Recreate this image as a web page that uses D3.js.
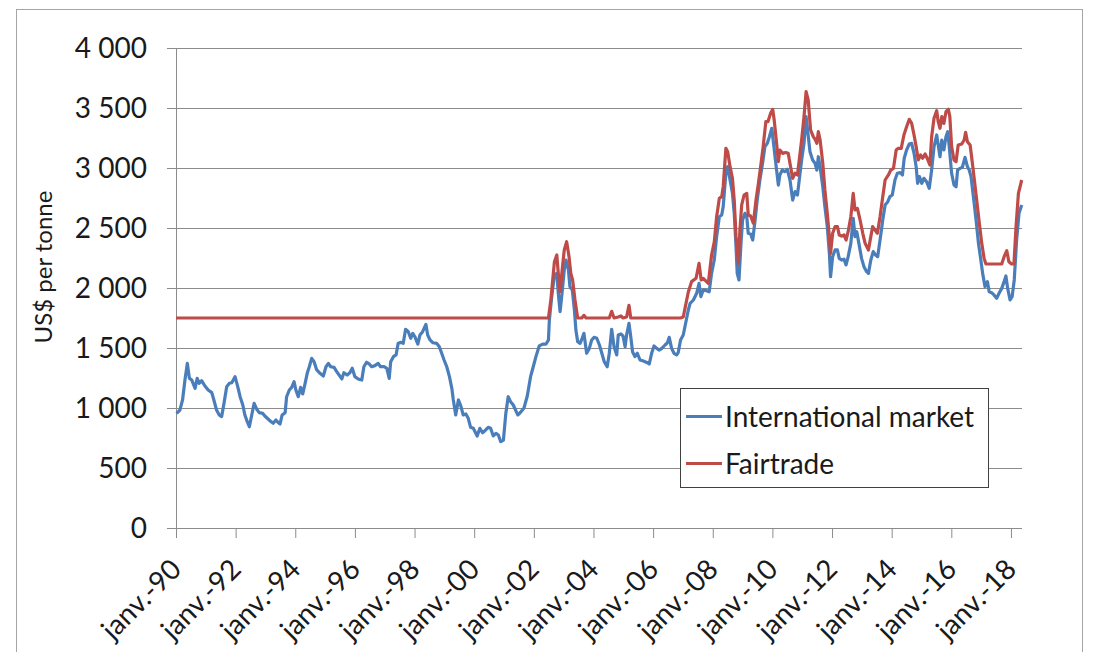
<!DOCTYPE html>
<html>
<head>
    <meta charset="utf-8">
    <title>Cocoa prices - International market vs Fairtrade</title>
    <script src="https://d3js.org/d3.v7.min.js"></script>
    <style>
        body {
            margin: 0;
            background: #fff;
            font-family: Lato, "Open Sans", sans-serif;
        }
        .grid line {
            stroke: #8c8c8c;
            stroke-width: 1px;
        }
        .tick-label {
            font-size: 28px;
            fill: #1a1a1a;
        }
        .series {
            fill: none;
            stroke-width: 3.2px;
            stroke-linejoin: round;
        }
    </style>
</head>
<body>
    <svg id="chart" width="1095" height="652"></svg>

    <script>
        // International market price (US$/tonne)
        const marketYears = [
            1990.02, 1990.13, 1990.22, 1990.30, 1990.38, 1990.45, 1990.53, 1990.64, 1990.71, 1990.78, 1990.86, 1990.97,
            1991.08, 1991.20, 1991.27, 1991.36, 1991.45, 1991.53, 1991.61, 1991.70, 1991.79, 1991.87, 1991.98,
            1992.07, 1992.15, 1992.24, 1992.31, 1992.39, 1992.46, 1992.54, 1992.62, 1992.71, 1992.79, 1992.91, 1992.98,
            1993.15, 1993.26, 1993.35, 1993.43, 1993.49, 1993.56, 1993.66, 1993.71, 1993.80, 1993.88, 1993.96,
            1994.02, 1994.10, 1994.18, 1994.25, 1994.33, 1994.40, 1994.47, 1994.55, 1994.63, 1994.72, 1994.83, 1994.94,
            1995.03, 1995.11, 1995.19, 1995.30, 1995.39, 1995.56, 1995.63, 1995.74, 1995.83, 1995.91,
            1996.00, 1996.11, 1996.23, 1996.30, 1996.39, 1996.48, 1996.56, 1996.67, 1996.78, 1996.86, 1996.98,
            1997.07, 1997.15, 1997.20, 1997.29, 1997.38, 1997.45, 1997.55, 1997.62, 1997.70, 1997.79, 1997.87, 1997.94,
            1998.01, 1998.11, 1998.18, 1998.27, 1998.38, 1998.44, 1998.52, 1998.61, 1998.74, 1998.83, 1998.91, 1998.99,
            1999.08, 1999.17, 1999.25, 1999.30, 1999.38, 1999.47, 1999.55, 1999.63, 1999.72, 1999.80, 1999.88, 1999.97,
            2000.10, 2000.19, 2000.28, 2000.36, 2000.47, 2000.55, 2000.64, 2000.73, 2000.81, 2000.89, 2000.98,
            2001.06, 2001.14, 2001.22, 2001.31, 2001.46, 2001.54, 2001.67, 2001.78, 2001.89, 2001.98,
            2002.07, 2002.18, 2002.30, 2002.41, 2002.49, 2002.52, 2002.60, 2002.69, 2002.77, 2002.82, 2002.88, 2002.95,
            2003.02, 2003.08, 2003.16, 2003.21, 2003.29, 2003.36, 2003.41, 2003.47, 2003.55, 2003.62, 2003.68, 2003.77, 2003.86, 2003.94,
            2004.02, 2004.11, 2004.20, 2004.28, 2004.36, 2004.46, 2004.53, 2004.61, 2004.69, 2004.78, 2004.83, 2004.92, 2004.99,
            2005.06, 2005.11, 2005.19, 2005.25, 2005.31, 2005.39, 2005.47, 2005.56, 2005.65, 2005.73, 2005.79, 2005.87, 2005.95,
            2006.03, 2006.12, 2006.21, 2006.29, 2006.40, 2006.48, 2006.54, 2006.62, 2006.70, 2006.79, 2006.84, 2006.92,
            2007.01, 2007.09, 2007.18, 2007.24, 2007.35, 2007.46, 2007.54, 2007.60, 2007.68, 2007.77, 2007.88, 2007.96,
            2008.05, 2008.13, 2008.22, 2008.30, 2008.35, 2008.44, 2008.50, 2008.58, 2008.66, 2008.72, 2008.78, 2008.82, 2008.88, 2008.94,
            2009.00, 2009.08, 2009.14, 2009.19, 2009.27, 2009.34, 2009.42, 2009.49, 2009.58, 2009.67, 2009.75, 2009.83, 2009.90, 2009.98,
            2010.05, 2010.14, 2010.20, 2010.25, 2010.33, 2010.42, 2010.50, 2010.59, 2010.68, 2010.76, 2010.84, 2010.90, 2010.98,
            2011.06, 2011.13, 2011.18, 2011.26, 2011.35, 2011.43, 2011.49, 2011.54, 2011.60, 2011.69, 2011.76, 2011.84, 2011.91, 2011.95,
            2012.02, 2012.10, 2012.18, 2012.24, 2012.32, 2012.40, 2012.47, 2012.54, 2012.63, 2012.71, 2012.77, 2012.83, 2012.90, 2012.99,
            2013.07, 2013.16, 2013.22, 2013.30, 2013.38, 2013.46, 2013.53, 2013.61, 2013.70, 2013.78, 2013.87, 2013.94,
            2014.02, 2014.11, 2014.19, 2014.28, 2014.36, 2014.42, 2014.50, 2014.59, 2014.67, 2014.75, 2014.82, 2014.87, 2014.93,
            2015.01, 2015.08, 2015.17, 2015.26, 2015.34, 2015.42, 2015.51, 2015.56, 2015.62, 2015.68, 2015.75, 2015.82, 2015.88, 2015.93,
            2016.01, 2016.09, 2016.16, 2016.21, 2016.29, 2016.37, 2016.46, 2016.54, 2016.60, 2016.66, 2016.74, 2016.83, 2016.91, 2016.99,
            2017.05, 2017.13, 2017.21, 2017.27, 2017.35, 2017.43, 2017.52, 2017.60, 2017.69, 2017.77, 2017.83, 2017.89, 2017.97,
            2018.04, 2018.11, 2018.19, 2018.27, 2018.36
        ];
        const marketValues = [
            955, 983, 1067, 1233, 1372, 1247, 1233, 1164, 1247, 1206, 1228, 1183,
            1150, 1128, 1067, 983, 942, 928, 1039, 1178, 1206, 1211, 1261,
            1178, 1094, 1025, 942, 886, 844, 942, 1039, 989, 961, 955, 933,
            894, 872, 900, 878, 867, 942, 961, 1094, 1150, 1172, 1219,
            1150, 1094, 1172, 1117, 1206, 1289, 1344, 1414, 1386, 1317, 1289, 1267,
            1344, 1372, 1344, 1339, 1303, 1242, 1294, 1275, 1294, 1331,
            1261, 1242, 1233, 1344, 1381, 1367, 1344, 1353, 1372, 1344, 1344,
            1331, 1247, 1386, 1428, 1442, 1539, 1547, 1539, 1656, 1636, 1581, 1622,
            1594, 1533, 1608, 1636, 1697, 1608, 1567, 1544, 1539, 1511, 1456, 1400,
            1344, 1261, 1164, 1067, 942, 1067, 1017, 942, 950, 914, 839, 831,
            767, 831, 794, 811, 839, 831, 767, 789, 775, 719, 733,
            955, 1094, 1053, 1025, 942, 960, 1000, 1100, 1261, 1344,
            1428, 1517, 1533, 1533, 1567, 1733, 1928, 2108, 2122, 1956, 1803, 1969,
            2150, 2233, 2150, 2011, 1983, 1817, 1650, 1553, 1539, 1581, 1622, 1456, 1497, 1567,
            1589, 1581, 1525, 1456, 1386, 1344, 1456, 1656, 1511, 1442, 1608, 1617, 1600,
            1511, 1608, 1706, 1594, 1469, 1428, 1456, 1400, 1394, 1386, 1380, 1367, 1456,
            1517, 1497, 1483, 1497, 1525, 1544, 1589, 1497, 1456, 1442, 1461, 1567,
            1608, 1706, 1817, 1872, 1900, 1956, 2039, 1928, 1983, 1980, 1969, 2122,
            2233, 2428, 2594, 2608, 2678, 2956, 3011, 2900, 2789, 2622, 2344, 2122, 2067, 2344,
            2567, 2622, 2594, 2456, 2450, 2400, 2567, 2733, 2900, 3039, 3178, 3206, 3261, 3331,
            3178, 2983, 2858, 2942, 2983, 2970, 2989, 2900, 2733, 2803, 2775, 2900, 3067,
            3206, 3428, 3317, 3136, 3067, 3039, 2983, 3094, 3011, 2844, 2678, 2511, 2289, 2094,
            2261, 2317, 2317, 2247, 2233, 2240, 2192, 2261, 2372, 2581, 2428, 2469, 2372, 2247,
            2178, 2136, 2122, 2233, 2303, 2275, 2261, 2400, 2567, 2692, 2719, 2761,
            2775, 2900, 2956, 2961, 2942, 3081, 3150, 3200, 3206, 3122, 3011, 2872, 2928,
            2872, 2914, 2886, 2831, 2983, 3178, 3275, 3192, 3094, 3233, 3150, 3261, 3303, 3178,
            2956, 2858, 2844, 2983, 2997, 3006, 3089, 3011, 2983, 2928, 2761, 2567, 2372, 2233,
            2122, 2011, 2053, 1969, 1961, 1942, 1914, 1956, 1997, 2053, 2100, 1997, 1900,
            1928, 2067, 2400, 2622, 2692
        ];

        // Fairtrade price (US$/tonne)
        const fairYears = [
            1990.00, 2002.49, 2002.57, 2002.69, 2002.77, 2002.82, 2002.88, 2002.95, 2003.02, 2003.10, 2003.18, 2003.24, 2003.30, 2003.38,
            2003.47, 2003.61, 2003.68, 2003.75, 2004.53, 2004.61, 2004.69, 2004.83, 2004.92, 2004.99, 2005.11, 2005.19, 2005.25,
            2006.92, 2007.01, 2007.09, 2007.18, 2007.29, 2007.44, 2007.54, 2007.61, 2007.68, 2007.85, 2007.96,
            2008.05, 2008.13, 2008.22, 2008.30, 2008.35, 2008.44, 2008.50, 2008.58, 2008.66, 2008.72, 2008.78, 2008.86, 2008.91, 2008.97,
            2009.05, 2009.14, 2009.19, 2009.27, 2009.36, 2009.45, 2009.53, 2009.62, 2009.69, 2009.78, 2009.85, 2009.94,
            2010.01, 2010.06, 2010.14, 2010.20, 2010.25, 2010.34, 2010.44, 2010.53, 2010.61, 2010.68, 2010.76, 2010.84, 2010.90, 2010.98,
            2011.06, 2011.13, 2011.20, 2011.28, 2011.37, 2011.43, 2011.49, 2011.54, 2011.60, 2011.69, 2011.76, 2011.84, 2011.91, 2011.95,
            2012.02, 2012.10, 2012.18, 2012.24, 2012.32, 2012.40, 2012.47, 2012.54, 2012.63, 2012.71, 2012.77, 2012.85, 2012.94,
            2013.03, 2013.11, 2013.22, 2013.30, 2013.36, 2013.44, 2013.52, 2013.61, 2013.70, 2013.78, 2013.89, 2013.97,
            2014.06, 2014.15, 2014.22, 2014.32, 2014.41, 2014.50, 2014.59, 2014.67, 2014.75, 2014.82, 2014.89, 2014.97,
            2015.04, 2015.12, 2015.19, 2015.28, 2015.34, 2015.42, 2015.51, 2015.56, 2015.62, 2015.68, 2015.75, 2015.82, 2015.90, 2015.95,
            2016.01, 2016.09, 2016.16, 2016.23, 2016.35, 2016.43, 2016.48, 2016.54, 2016.63, 2016.68, 2016.76, 2016.85, 2016.94,
            2017.02, 2017.10, 2017.16, 2017.69, 2017.77, 2017.86, 2017.93, 2018.02, 2018.10, 2018.17, 2018.25, 2018.36
        ];
        const fairValues = [
            1750, 1750, 1900, 2219, 2275, 2122, 1969, 2150, 2317, 2386, 2261, 2122, 2067, 1900,
            1750, 1750, 1772, 1750, 1750, 1806, 1750, 1758, 1767, 1750, 1758, 1856, 1750,
            1750, 1758, 1856, 1967, 2053, 2081, 2206, 2067, 2080, 2039, 2275,
            2383, 2594, 2747, 2761, 2844, 3164, 3136, 3011, 2914, 2733, 2428, 2206, 2483, 2692,
            2775, 2789, 2608, 2600, 2539, 2733, 2872, 3039, 3178, 3386, 3386, 3456,
            3489, 3400, 3206, 3053, 3150, 3122, 3130, 3122, 3011, 2914, 2956, 2942, 3067, 3233,
            3428, 3636, 3567, 3317, 3261, 3240, 3206, 3303, 3233, 3039, 2817, 2622, 2428, 2289,
            2456, 2511, 2511, 2442, 2433, 2442, 2400, 2469, 2594, 2789, 2650, 2664, 2567,
            2456, 2372, 2317, 2428, 2511, 2483, 2456, 2594, 2761, 2900, 2942, 2983,
            2997, 3150, 3164, 3164, 3275, 3344, 3406, 3372, 3275, 3178, 3067, 3108,
            3081, 3117, 3081, 3025, 3261, 3414, 3478, 3386, 3331, 3428, 3372, 3469, 3489, 3428,
            3178, 3067, 3053, 3192, 3200, 3233, 3297, 3219, 3192, 3094, 2928, 2733, 2539,
            2372, 2247, 2200, 2200, 2261, 2311, 2219, 2200, 2200, 2511, 2789, 2900
        ];

        const yTicks = [0, 500, 1000, 1500, 2000, 2500, 3000, 3500, 4000];
        const xTickYears = [1990, 1992, 1994, 1996, 1998, 2000, 2002, 2004, 2006, 2008, 2010, 2012, 2014, 2016, 2018];
        const xTickLabels = ["janv.-90", "janv.-92", "janv.-94", "janv.-96", "janv.-98", "janv.-00", "janv.-02", "janv.-04",
                             "janv.-06", "janv.-08", "janv.-10", "janv.-12", "janv.-14", "janv.-16", "janv.-18"];
        const seriesNames = ["International market", "Fairtrade"];
        const seriesColors = ["#4a7ebb", "#be4b48"];

        const svg = d3.select("#chart");

        // outer chart frame
        svg.append("rect")
           .attr("x", 16.5).attr("y", 9.5)
           .attr("width", 1066).attr("height", 660)
           .attr("fill", "none")
           .attr("stroke", "#a6a6a6");

        const x = d3.scaleLinear().domain([1990, 2018.37]).range([176, 1022]);
        const y = d3.scaleLinear().domain([0, 4000]).range([528, 48]);

        // horizontal gridlines + y labels
        const yAxis = svg.append("g")
            .attr("class", "grid")
            .attr("transform", "translate(1022,0)")
            .call(d3.axisLeft(y).tickValues(yTicks).tickSize(1022 - 167).tickFormat(""));
        yAxis.select(".domain").remove();

        svg.selectAll(".ylabel")
           .data(yTicks)
           .enter()
           .append("text")
           .attr("class", "tick-label")
           .attr("x", 147)
           .attr("y", d => y(d))
           .attr("dy", "0.36em")
           .attr("text-anchor", "end")
           .text(d => d3.format(",")(d).replace(",", "\u00a0"));

        // vertical axis line
        svg.append("line")
           .attr("x1", 176.5).attr("x2", 176.5)
           .attr("y1", y(4000)).attr("y2", y(0))
           .attr("stroke", "#8c8c8c");

        // x axis with ticks
        const xAxis = svg.append("g")
            .attr("class", "grid")
            .attr("transform", `translate(0,${y(0)})`)
            .call(d3.axisBottom(x).tickValues(xTickYears).tickSize(10).tickFormat(""));
        xAxis.select(".domain").attr("stroke", "#8c8c8c").attr("d", "M167,0.5H1022");
        xAxis.selectAll(".tick line").attr("stroke", "#8c8c8c");

        svg.selectAll(".xlabel")
           .data(xTickYears)
           .enter()
           .append("text")
           .attr("class", "tick-label")
           .attr("text-anchor", "end")
           .attr("transform", d => `translate(${x(d) + 7},${571}) rotate(-45)`)
           .text((d, i) => xTickLabels[i]);

        // y axis title
        svg.append("text")
           .attr("transform", "translate(52,267) rotate(-90)")
           .attr("text-anchor", "middle")
           .attr("font-size", "24px")
           .attr("fill", "#1a1a1a")
           .text("US$ per tonne");

        // series
        const line = d3.line()
            .x(d => x(d[0]))
            .y(d => y(d[1]));

        const market = marketYears.map((yr, i) => [yr, marketValues[i]]);
        const fair = fairYears.map((yr, i) => [yr, fairValues[i]]);

        svg.append("path")
           .datum(market)
           .attr("class", "series")
           .attr("stroke", seriesColors[0])
           .attr("d", line);

        svg.append("path")
           .datum(fair)
           .attr("class", "series")
           .attr("stroke", seriesColors[1])
           .attr("d", line);

        // legend
        const legend = svg.append("g");
        legend.append("rect")
              .attr("x", 680.5).attr("y", 388.5)
              .attr("width", 308).attr("height", 99)
              .attr("fill", "#fff")
              .attr("stroke", "#404040");

        seriesNames.forEach((name, i) => {
            const ly = 416.5 + i * 47;
            legend.append("line")
                  .attr("x1", 686).attr("x2", 722)
                  .attr("y1", ly).attr("y2", ly)
                  .attr("stroke", seriesColors[i])
                  .attr("stroke-width", 3);
            legend.append("text")
                  .attr("class", "tick-label")
                  .attr("x", 725)
                  .attr("y", ly)
                  .attr("dy", "0.36em")
                  .text(name);
        });
    </script>
</body>
</html>
